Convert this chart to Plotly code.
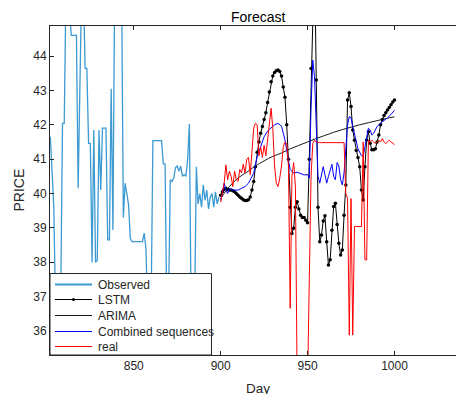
import plotly.graph_objects as go

# ---------------- data ----------------
obs_days = list(range(802, 900))
obs_vals = [41.65, 40.55, 39.6, 36.6, 36.4, 36.8, 37.2, 42.04, 42.04, 46.0,
            46.0, 45.5, 44.6, 44.6, 44.6, 44.6, 40.15, 44.1, 46.0, 46.0,
            43.64, 43.64, 41.46, 41.46, 38.0, 41.85, 38.0, 38.05, 41.85, 40.1,
            41.9, 41.9, 41.9, 38.65, 38.65, 43.05, 38.94, 46.0, 46.0, 46.0,
            46.0, 46.0, 39.3, 40.3, 40.0, 39.67, 38.7, 38.6, 38.6, 38.6,
            38.6, 38.6, 38.6, 38.6, 38.85, 38.4, 36.5, 36.3, 36.8, 41.54,
            41.54, 41.54, 41.54, 41.54, 41.54, 40.86, 40.86, 36.5, 36.8, 40.4,
            40.35, 40.45, 40.75, 40.8, 40.65, 40.8, 40.5, 40.55, 40.5, 41.0,
            42.02, 36.5, 36.0, 36.6, 40.78, 39.7, 40.0, 39.6, 40.25, 39.8,
            40.1, 39.55, 39.9, 40.0, 39.6, 40.05, 39.7, 39.9]

fc_days = list(range(900, 1001))
lstm_vals = [39.95, 40.05, 40.12, 40.15, 40.12, 40.1, 40.1, 40.08, 40.05, 40.0,
             39.95, 39.9, 39.86, 39.82, 39.8, 39.8, 39.82, 39.9, 40.1, 40.35,
             40.78, 41.2, 41.5, 41.75, 41.95, 42.15, 42.35, 42.65, 42.95, 43.25,
             43.42, 43.52, 43.57, 43.59, 43.55, 43.42, 43.1, 42.8, 42.0, 41.0,
             39.6, 38.84, 38.99, 39.6, 39.76, 39.55, 39.37, 39.3, 39.3, 39.22,
             39.15, 41.0, 43.64, 47.0, 47.0, 43.3, 39.6, 38.6, 38.79, 39.2,
             39.35, 38.6, 37.92, 38.07, 38.93, 39.62, 39.72, 39.1, 38.55, 38.21,
             38.36, 39.37, 40.25, 42.72, 42.93, 42.53, 41.85, 41.55, 41.25, 41.05,
             40.78, 40.1, 39.81, 40.78, 41.56, 41.8, 41.46, 41.27, 41.27, 41.3,
             41.5, 41.7, 42.0, 42.15, 42.27, 42.35, 42.43, 42.5, 42.58, 42.66,
             42.72]

arima_days = list(range(900, 1001, 5))
arima_vals = [39.85, 40.2, 40.45, 40.62, 40.8, 40.95, 41.08, 41.18, 41.3, 41.4,
              41.5, 41.6, 41.69, 41.78, 41.86, 41.93, 42.0, 42.06, 42.12, 42.18,
              42.23]

comb_days = [900, 901, 902, 903, 904, 905, 906, 908, 910, 912, 914, 916, 917, 919,
             921, 923, 925, 927, 929, 931, 933, 935, 937, 938, 939, 940, 942, 944,
             946, 948, 950, 951, 952, 953, 954, 955, 956, 957, 958, 959, 960, 961,
             962, 963, 964, 965, 966, 967, 968, 969, 970, 971, 972, 973, 974, 975,
             976, 977, 978, 979, 980, 981, 982, 983, 984, 985, 986, 987, 988, 989,
             990, 992, 994, 996, 998, 1000]
comb_vals = [39.8, 40.0, 40.3, 40.1, 40.0, 40.15, 40.1, 40.1, 40.1, 40.15, 40.2,
             40.3, 40.4, 40.59, 41.07, 41.36, 41.65, 41.82, 41.92, 42.0, 42.04,
             41.96, 41.56, 41.2, 40.95, 40.7, 40.59, 40.62, 40.59, 40.54, 40.55,
             40.45, 42.5, 43.88, 43.4, 42.0, 40.5, 40.3, 40.5, 40.78, 40.55, 40.3,
             40.5, 40.7, 40.85, 40.5, 40.4, 40.9, 40.8, 40.4, 40.25, 40.6, 41.4,
             42.0, 42.24, 42.2, 41.95, 41.75, 41.5, 41.3, 41.2, 41.1, 41.08, 41.4,
             41.7, 41.9, 41.85, 41.7, 41.75, 41.85, 41.95, 42.05, 42.12, 42.2,
             42.3, 42.42]

real_vals = [39.75, 40.1, 40.3, 40.83, 40.4, 40.65, 40.5, 40.2, 40.65, 40.4,
             40.35, 40.7, 40.6, 40.85, 40.6, 41.0, 41.05, 40.55, 41.3, 41.9,
             42.04, 42.0, 41.1, 41.35, 41.05, 41.4, 41.1, 41.6, 41.95, 42.48,
             41.9, 40.8, 40.3, 40.2, 40.45, 40.8, 41.36, 41.5, 41.45, 40.8,
             36.66, 40.5, 40.9, 40.2, 34.5, 34.5, 34.5, 34.5, 34.5, 34.5,
             34.5, 37.5, 40.5, 41.46, 41.55, 41.5, 41.48, 41.48, 41.48, 41.48,
             41.48, 41.48, 41.48, 41.48, 41.48, 41.48, 41.48, 41.48, 41.48, 41.48,
             41.48, 41.48, 40.0, 39.85, 35.88, 39.85, 35.88, 39.04, 39.04, 39.04,
             39.04, 39.04, 41.5, 38.07, 38.07, 41.55, 41.5, 41.55, 41.5, 41.45,
             41.5, 41.55, 41.5, 41.6, 41.5, 41.45, 41.5, 41.55, 41.5, 41.45,
             41.42]

x_ticks = [850, 900, 950, 1000]
y_ticks = [36, 37, 38, 39, 40, 41, 42, 43, 44]

series_names = ["Observed", "LSTM", "ARIMA", "Combined sequences", "real"]
series_colors = ["#3C9AD2", "#000000", "#1a1a1a", "#0000FF", "#FF0000"]

# ---------------- figure ----------------
FONT = "Liberation Sans, Arial, Helvetica, sans-serif"
AX = "#262626"

fig = go.Figure()
fig.add_trace(go.Scatter(x=obs_days, y=obs_vals, mode="lines", name=series_names[0],
                         line=dict(color=series_colors[0], width=1.3)))
fig.add_trace(go.Scatter(x=fc_days, y=lstm_vals, mode="lines+markers", name=series_names[1],
                         line=dict(color=series_colors[1], width=1),
                         marker=dict(color=series_colors[1], size=3.5)))
fig.add_trace(go.Scatter(x=arima_days, y=arima_vals, mode="lines", name=series_names[2],
                         line=dict(color=series_colors[2], width=1, shape="spline")))
fig.add_trace(go.Scatter(x=comb_days, y=comb_vals, mode="lines", name=series_names[3],
                         line=dict(color=series_colors[3], width=1)))
fig.add_trace(go.Scatter(x=fc_days, y=real_vals, mode="lines", name=series_names[4],
                         line=dict(color=series_colors[4], width=1)))

L, T, W, H = 50, 26, 456, 394
B = 39
plot_h = H - T - B
plot_w = W - L


def px(x):
    return (x - L) / plot_w


def py(y):
    return (H - B - y) / plot_h


# custom legend box (MATLAB-like compact legend)
shapes = [dict(type="rect", xref="paper", yref="paper",
               x0=px(50), x1=px(211.5), y0=py(355), y1=py(273.5),
               fillcolor="white", line=dict(color=AX, width=1), layer="above")]
annotations = []
row_y = [284.5, 299.5, 315.5, 331.5, 346.5]
widths = [2, 1, 1, 1.2, 1.2]
for name, col, ry, lw in zip(series_names, series_colors, row_y, widths):
    shapes.append(dict(type="line", xref="paper", yref="paper",
                       x0=px(55), x1=px(92), y0=py(ry), y1=py(ry),
                       line=dict(color=col, width=lw), layer="above"))
    annotations.append(dict(text=name, xref="paper", yref="paper",
                            x=px(96), y=py(ry), xanchor="left", yanchor="middle",
                            showarrow=False, font=dict(size=12, color=AX)))
# LSTM legend marker
shapes.append(dict(type="circle", xref="paper", yref="paper",
                   x0=px(72), x1=px(75), y0=py(row_y[1] + 1.5), y1=py(row_y[1] - 1.5),
                   fillcolor="#000000", line=dict(color="#000000", width=0), layer="above"))

annotations += [
    dict(text="Forecast", xref="paper", yref="paper",
         x=px(258), y=py(17), xanchor="center", yanchor="middle", showarrow=False,
         font=dict(size=14, color="#000000")),
    dict(text="Day", xref="paper", yref="paper",
         x=px(258), y=py(388), xanchor="center", yanchor="middle", showarrow=False,
         font=dict(size=13.5, color=AX)),
    dict(text="PRICE", xref="paper", yref="paper",
         x=px(18), y=0.5, textangle=-90, xanchor="center", yanchor="middle",
         showarrow=False, font=dict(size=14, color=AX)),
]

fig.update_layout(
    width=W, height=H,
    margin=dict(l=L, r=0, t=T, b=B, pad=0),
    paper_bgcolor="white", plot_bgcolor="white",
    font=dict(family=FONT, size=12, color=AX),
    showlegend=False,
    xaxis=dict(range=[801.8, 1035.4], tickvals=x_ticks, ticks="inside", ticklen=4,
               tickcolor=AX, showline=True, linecolor=AX, linewidth=1,
               mirror="ticks", showgrid=False, zeroline=False,
               tickfont=dict(size=12, color=AX)),
    yaxis=dict(range=[35.302, 44.873], tickvals=y_ticks, ticks="inside", ticklen=4,
               tickcolor=AX, showline=True, linecolor=AX, linewidth=1,
               mirror=False, showgrid=False, zeroline=False,
               tickfont=dict(size=12, color=AX)),
    shapes=shapes,
    annotations=annotations,
)

fig.write_html("out.html", config={"displayModeBar": False},
               post_script="document.body.style.margin='0px';"
                           "document.body.style.overflow='hidden';")
